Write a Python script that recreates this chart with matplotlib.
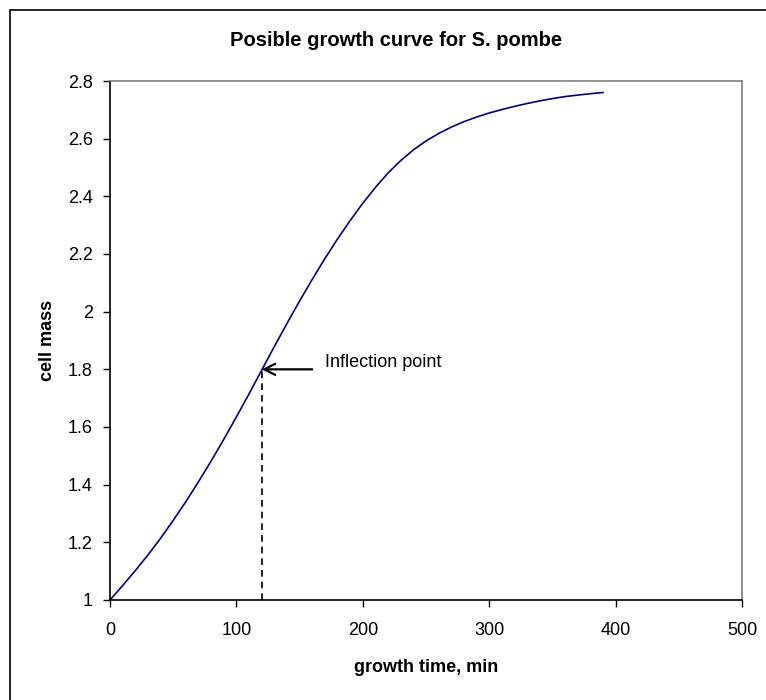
import matplotlib
matplotlib.use("Agg")
import matplotlib.pyplot as plt
from matplotlib.patches import Rectangle

plt.rcParams['font.family'] = ['Liberation Sans', 'DejaVu Sans']

# growth time (min) and cell mass
time_min = [0, 10, 20, 30, 40, 50, 60, 70, 80, 90,
            100, 110, 120, 130, 140, 150, 160, 170, 180, 190,
            200, 210, 220, 230, 240, 250, 260, 270, 280, 290,
            300, 310, 320, 330, 340, 350, 360, 370, 380, 390]
cell_mass = [1.000, 1.050, 1.102, 1.156, 1.214, 1.276, 1.341, 1.410, 1.482, 1.557,
             1.635, 1.715, 1.797, 1.879, 1.959, 2.037, 2.112, 2.184, 2.252, 2.316,
             2.376, 2.431, 2.481, 2.524, 2.561, 2.592, 2.618, 2.640, 2.659, 2.675,
             2.689, 2.701, 2.712, 2.722, 2.731, 2.739, 2.746, 2.751, 2.756, 2.760]

inflection_t = 120
inflection_m = 1.8

x_ticks = [0, 100, 200, 300, 400, 500]
y_ticks = [1, 1.2, 1.4, 1.6, 1.8, 2, 2.2, 2.4, 2.6, 2.8]
y_tick_labels = ["1", "1.2", "1.4", "1.6", "1.8", "2", "2.2", "2.4", "2.6", "2.8"]

fig = plt.figure(figsize=(7.66, 7.0), dpi=100)
W, H = 766, 700

# outer chart border (right/bottom edges fall outside the image)
fig.patches.append(Rectangle((10 / W, -0.2), 1.5, 0.2 + 1 - 9.5 / H,
                             transform=fig.transFigure, fill=False,
                             edgecolor='black', linewidth=1.2))

ax = fig.add_axes([110 / W, 100 / H, 632 / W, 519 / H])
ax.plot(time_min, cell_mass, color='#000080', linewidth=1.2)

# dashed drop line and arrow to the inflection point
ax.plot([inflection_t, inflection_t], [1, inflection_m], color='black',
        linestyle=(0, (4, 3)), linewidth=1.2)
ax.annotate('', xy=(inflection_t, inflection_m), xytext=(160, inflection_m),
            arrowprops=dict(arrowstyle='->', color='black', lw=1.6,
                            mutation_scale=20, shrinkA=0, shrinkB=0))
ax.text(170, 1.823, 'Inflection point', fontsize=13, va='center', ha='left')

ax.set_xlim(0, 500)
ax.set_ylim(1, 2.8)
ax.set_xticks(x_ticks)
ax.set_yticks(y_ticks)
ax.set_yticklabels(y_tick_labels)
ax.tick_params(direction='out', length=5, width=1, labelsize=13)
ax.tick_params(axis='x', pad=11)
ax.tick_params(axis='y', pad=7.5)

for side in ['left', 'bottom']:
    ax.spines[side].set_color('black')
    ax.spines[side].set_linewidth(1.2)
for side in ['top', 'right']:
    ax.spines[side].set_color('#808080')
    ax.spines[side].set_linewidth(1.2)

ax.set_xlabel('growth time, min', fontsize=13, fontweight='bold', labelpad=14)
ax.set_ylabel('cell mass', fontsize=13, fontweight='bold', labelpad=8.5)

fig.text(396 / W, 1 - 41 / H, 'Posible growth curve for S. pombe',
         fontsize=14.5, fontweight='bold', ha='center', va='center')

fig.savefig('out.png', dpi=100)
